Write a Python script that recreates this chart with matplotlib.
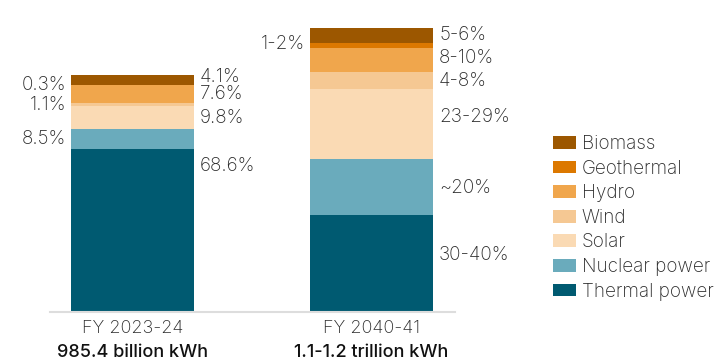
import matplotlib.pyplot as plt
from matplotlib.patches import Patch
import numpy as np

plt.rcParams['font.family'] = ['Inter', 'DejaVu Sans']

# data
years = ["FY 2023-24", "FY 2040-41"]
totals_label = ["985.4 billion kWh", "1.1-1.2 trillion kWh"]
totals = [985.4, 1181.0]
sources = ["Thermal power", "Nuclear power", "Solar", "Wind", "Hydro", "Geothermal", "Biomass"]
share_2023 = [68.6, 8.5, 9.8, 1.1, 7.6, 0.3, 4.1]
share_2040 = [34.2, 19.7, 24.6, 6.0, 8.5, 1.8, 5.3]
labels_2023 = ["68.6%", "8.5%", "9.8%", "1.1%", "7.6%", "0.3%", "4.1%"]
labels_2040 = ["30-40%", "~20%", "23-29%", "4-8%", "8-10%", "1-2%", "5-6%"]
colors = ["#005a71", "#6aabbc", "#fadab4", "#f5c893", "#f0a64c", "#dc7800", "#9c5700"]

# which side each label goes (R right of bar, L left of bar) and vertical nudge in px
side_2023 = ["R", "L", "R", "L", "R", "L", "R"]
side_2040 = ["R", "R", "R", "R", "R", "L", "R"]
nudge_2023 = [65, 0, 0, 0, 0, 0, 3]
nudge_2040 = [8, -1, 7, 0, 2, 1, 0]

fig = plt.figure(figsize=(7.17, 3.6), dpi=100)
W, H = 717, 360
ax = fig.add_axes([50 / W, 48 / H, 405 / W, 288.6 / H])

shares = [share_2023, share_2040]
labs = [labels_2023, labels_2040]
sides = [side_2023, side_2040]
nudges = [nudge_2023, nudge_2040]
width = 0.515
px_per_unit = 284 / totals[1]

txt_col = "#2a2a2a"
fs = 13.6
for i in range(2):
    vals = np.array(shares[i]) * totals[i] / 100
    bottom = 0
    for j, v in enumerate(vals):
        ax.bar(i, v, width=width, bottom=bottom, color=colors[j], linewidth=0)
        yc = bottom + v / 2 + nudges[i][j] / px_per_unit
        if sides[i][j] == "R":
            ax.text(i + width / 2 + 0.025, yc, labs[i][j], ha="left", va="center",
                    fontsize=fs, color=txt_col, fontweight="light")
        else:
            ax.text(i - width / 2 - 0.02, yc, labs[i][j], ha="right", va="center",
                    fontsize=fs, color=txt_col, fontweight="light")
        bottom += v

ax.set_xlim(-0.345, 1.349)
ax.set_ylim(0, 1200)
for s in ["top", "right", "left"]:
    ax.spines[s].set_visible(False)
ax.spines["bottom"].set_color("#dddddd")
ax.spines["bottom"].set_linewidth(1.5)
ax.set_yticks([])
ax.set_xticks([0, 1])
ax.set_xticklabels(years, fontsize=13, color=txt_col, fontweight="light")
ax.tick_params(axis="x", length=0, pad=6)
for i, t in enumerate(totals_label):
    ax.text(i, -40 / px_per_unit, t, ha="center", va="center", fontsize=13,
            color="#111111", fontweight="medium")

handles = [Patch(facecolor=c, edgecolor="none") for c in colors][::-1]
fig.legend(handles, sources[::-1], loc="upper left", bbox_to_anchor=(553 / W, 1 - 135 / H),
           frameon=False, handlelength=1.22, handleheight=0.66,
           handletextpad=0.3, labelspacing=0.35, borderpad=0, borderaxespad=0,
           labelcolor=txt_col, prop={"weight": "light", "size": fs})

fig.savefig("out.png", dpi=100)
